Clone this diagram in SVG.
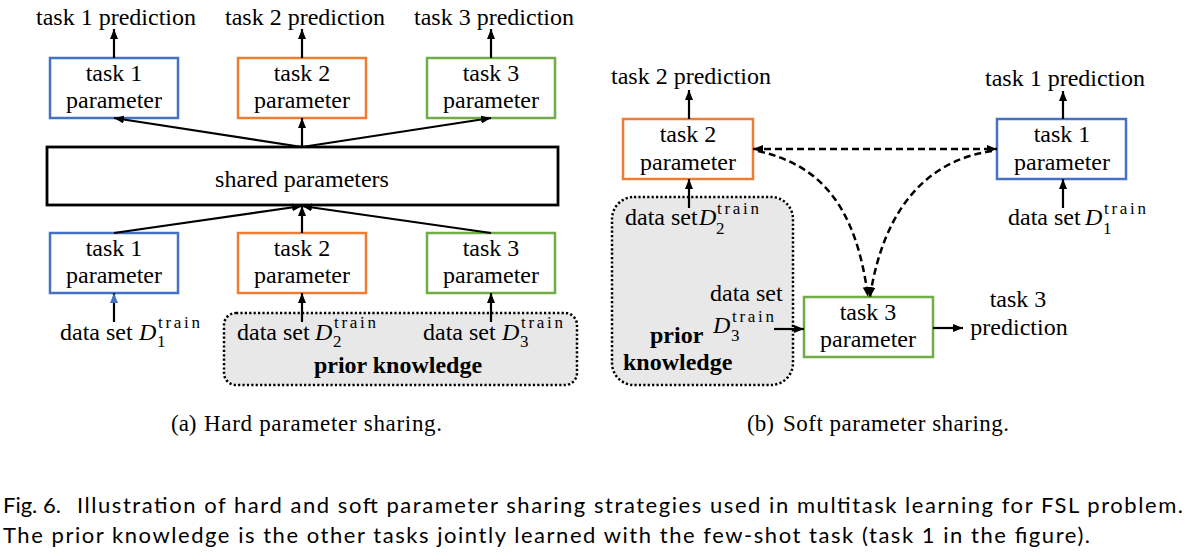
<svg xmlns="http://www.w3.org/2000/svg" width="1192" height="557" viewBox="0 0 1192 557">
<style>
.t{font-family:"Liberation Serif","Times New Roman",serif;font-size:24px;fill:#000}
.m{text-anchor:middle}
.b{font-weight:bold}
.mi{font-style:italic}
.s{font-family:"Liberation Serif","Times New Roman",serif;font-size:17px;fill:#000}
.cap{font-family:"Liberation Serif","Times New Roman",serif;font-size:23px;fill:#000}
.fig{font-family:Lato,"Liberation Sans",sans-serif;font-size:22px;fill:#000}
.box{fill:#fff;stroke-width:2.5}
.blue{stroke:#4472C4}
.orange{stroke:#ED7D31}
.green{stroke:#70AD47}
.pk{fill:#e8e8e8;stroke:#000;stroke-width:2.5;stroke-dasharray:2.2 2.2}
.ln{stroke:#000;stroke-width:2.2;fill:none;marker-end:url(#ah)}
.dl{stroke:#000;stroke-width:2.5;fill:none;stroke-dasharray:7 4;marker-end:url(#ah)}
</style>
<defs>
<marker id="ah" viewBox="0 0 10 8" refX="10" refY="4" markerWidth="10" markerHeight="8" markerUnits="userSpaceOnUse" orient="auto-start-reverse"><path d="M0,0 L10,4 L0,8 z" fill="#000"/></marker>
<marker id="ahb" viewBox="0 0 10 8" refX="10" refY="4" markerWidth="10" markerHeight="8" markerUnits="userSpaceOnUse" orient="auto"><path d="M0,0 L10,4 L0,8 z" fill="#4472C4"/></marker>
</defs>
<rect width="1192" height="557" fill="#fff"/>

<!-- (a) hard parameter sharing -->
<g id="prior-a">
<rect class="pk" x="224" y="313" width="353" height="72" rx="12"/>
<text class="t b m" x="398" y="373">prior knowledge</text>
</g>
<g id="pred1-a"><text class="t m" x="116" y="25">task 1 prediction</text></g>
<g id="pred2-a"><text class="t m" x="305" y="25">task 2 prediction</text></g>
<g id="pred3-a"><text class="t m" x="494" y="25">task 3 prediction</text></g>
<g id="t1-top-a"><rect class="box blue" x="50" y="58" width="128" height="60"/><text class="t m" x="114" y="81">task 1</text><text class="t m" x="114" y="108">parameter</text></g>
<g id="t2-top-a"><rect class="box orange" x="238" y="58" width="128" height="60"/><text class="t m" x="302" y="81">task 2</text><text class="t m" x="302" y="108">parameter</text></g>
<g id="t3-top-a"><rect class="box green" x="427" y="58" width="128" height="60"/><text class="t m" x="491" y="81">task 3</text><text class="t m" x="491" y="108">parameter</text></g>
<g id="shared-a"><rect x="47" y="147" width="511" height="58" fill="#fff" stroke="#000" stroke-width="2.8"/><text class="t m" x="302" y="187">shared parameters</text></g>
<g id="t1-bot-a"><rect class="box blue" x="50" y="233" width="128" height="60"/><text class="t m" x="114" y="256">task 1</text><text class="t m" x="114" y="283">parameter</text></g>
<g id="t2-bot-a"><rect class="box orange" x="238" y="233" width="128" height="60"/><text class="t m" x="302" y="256">task 2</text><text class="t m" x="302" y="283">parameter</text></g>
<g id="t3-bot-a"><rect class="box green" x="427" y="233" width="128" height="60"/><text class="t m" x="491" y="256">task 3</text><text class="t m" x="491" y="283">parameter</text></g>
<g id="d1-a"><text class="t" x="60" y="340">data set</text><text class="t mi" x="139" y="340">D</text><text class="s" x="158" y="328" textLength="42" lengthAdjust="spacing">train</text><text class="s" x="157" y="347">1</text></g>
<g id="d2-a"><text class="t" x="237" y="340">data set</text><text class="t mi" x="315" y="340">D</text><text class="s" x="334" y="328" textLength="42" lengthAdjust="spacing">train</text><text class="s" x="333" y="347">2</text></g>
<g id="d3-a"><text class="t" x="423" y="340">data set</text><text class="t mi" x="502" y="340">D</text><text class="s" x="521" y="328" textLength="42" lengthAdjust="spacing">train</text><text class="s" x="520" y="347">3</text></g>

<!-- (b) soft parameter sharing -->
<g id="prior-b">
<rect class="pk" x="612" y="197" width="181" height="188" rx="22"/>
<text class="t b" x="650" y="343">prior</text>
<text class="t b" x="623" y="370">knowledge</text>
</g>
<g id="pred2-b"><text class="t m" x="691" y="84">task 2 prediction</text></g>
<g id="pred1-b"><text class="t m" x="1065" y="86">task 1 prediction</text></g>
<g id="pred3-b"><text class="t m" x="1018" y="307">task 3</text><text class="t m" x="1019" y="335">prediction</text></g>
<g id="t2-b"><rect class="box orange" x="623" y="119" width="130" height="60"/><text class="t m" x="688" y="142">task 2</text><text class="t m" x="688" y="170">parameter</text></g>
<g id="t1-b"><rect class="box blue" x="997" y="119" width="129" height="60"/><text class="t m" x="1062" y="142">task 1</text><text class="t m" x="1062" y="170">parameter</text></g>
<g id="t3-b"><rect class="box green" x="804" y="297" width="129" height="60"/><text class="t m" x="868" y="320">task 3</text><text class="t m" x="868" y="347">parameter</text></g>
<g id="d2-b"><text class="t" x="625" y="225">data set</text><text class="t mi" x="699" y="225">D</text><text class="s" x="717" y="214" textLength="42" lengthAdjust="spacing">train</text><text class="s" x="716" y="234">2</text></g>
<g id="d1-b"><text class="t" x="1008" y="225">data set</text><text class="t mi" x="1085" y="225">D</text><text class="s" x="1104" y="214" textLength="42" lengthAdjust="spacing">train</text><text class="s" x="1103" y="234">1</text></g>
<g id="d3-b"><text class="t" x="710" y="301">data set</text><text class="t mi" x="713" y="333">D</text><text class="s" x="732" y="322" textLength="42" lengthAdjust="spacing">train</text><text class="s" x="731" y="341">3</text></g>

<g id="connectors">
<line class="ln" x1="114" y1="58" x2="114" y2="29"/>
<line class="ln" x1="302" y1="58" x2="302" y2="29"/>
<line class="ln" x1="491" y1="58" x2="491" y2="29"/>
<line class="ln" x1="302" y1="147" x2="114" y2="118"/>
<line class="ln" x1="302" y1="147" x2="302" y2="118"/>
<line class="ln" x1="302" y1="147" x2="491" y2="118"/>
<line class="ln" x1="114" y1="233" x2="302" y2="206"/>
<line class="ln" x1="302" y1="233" x2="302" y2="206"/>
<line class="ln" x1="491" y1="233" x2="302" y2="206"/>
<line x1="114" y1="322" x2="114" y2="293" stroke="#000" stroke-width="2.2" marker-end="url(#ahb)"/>
<line class="ln" x1="302" y1="322" x2="302" y2="293"/>
<line class="ln" x1="491" y1="322" x2="491" y2="293"/>

<line class="ln" x1="689" y1="119" x2="689" y2="90"/>
<line class="ln" x1="1063" y1="119" x2="1063" y2="91"/>
<line class="ln" x1="689" y1="208" x2="689" y2="179"/>
<line class="ln" x1="1063" y1="208" x2="1063" y2="179"/>
<line class="ln" x1="774" y1="329" x2="804" y2="329"/>
<line class="ln" x1="933" y1="328" x2="963" y2="328"/>
<line class="dl" x1="753" y1="149" x2="997" y2="149" style="marker-start:url(#ah)"/>
<path class="dl" d="M758 151 C820 165 856 205 868 297"/>
<path class="dl" d="M992 151 C930 160 884 205 870 297"/>
</g>

<g id="captions">
<text class="cap" x="171" y="431">(a)</text>
<text class="cap" x="204" y="431" textLength="238" lengthAdjust="spacing">Hard parameter sharing.</text>
<text class="cap" x="747" y="431">(b)</text>
<text class="cap" x="783" y="431" textLength="226" lengthAdjust="spacing">Soft parameter sharing.</text>
<text class="fig" x="3" y="513">Fig. 6.</text>
<text class="fig" x="77" y="513" textLength="1106" lengthAdjust="spacing">Illustration of hard and soft parameter sharing strategies used in multitask learning for FSL problem.</text>
<text class="fig" x="3" y="543" textLength="1087" lengthAdjust="spacing">The prior knowledge is the other tasks jointly learned with the few-shot task (task 1 in the figure).</text>
</g>
</svg>
